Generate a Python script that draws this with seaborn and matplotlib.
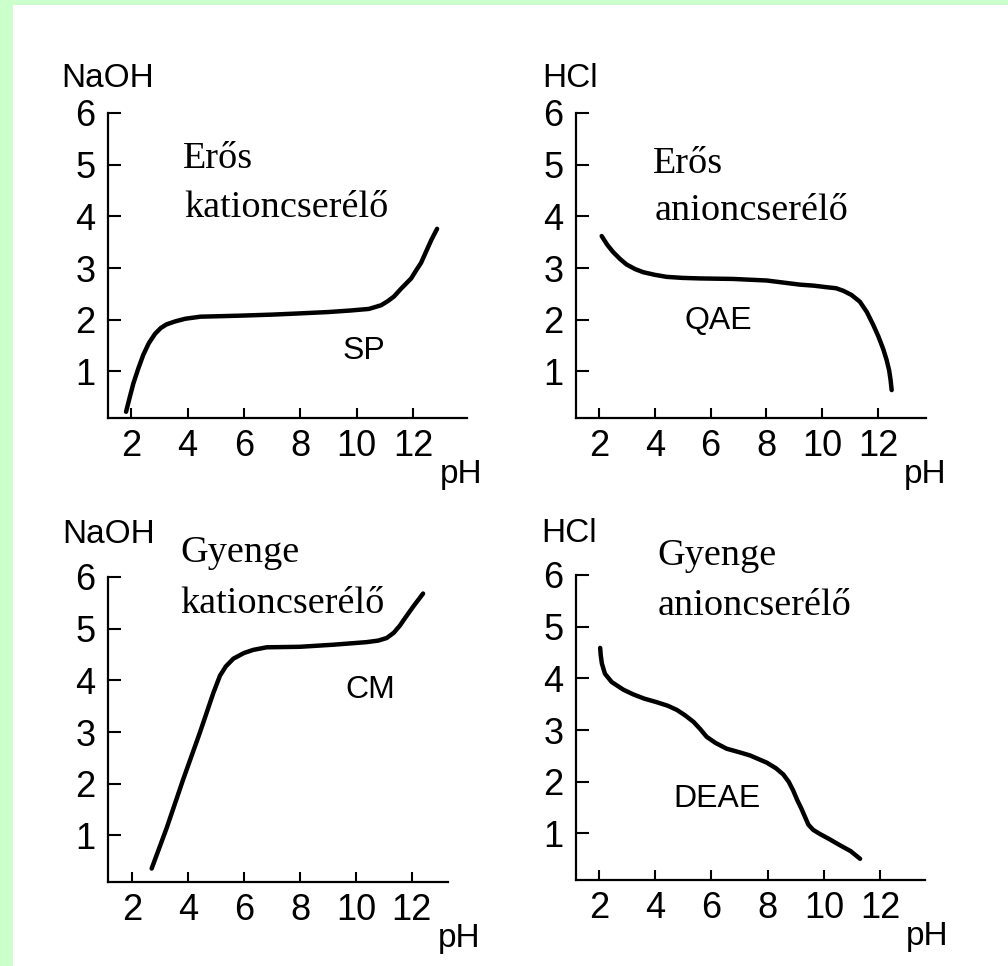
import matplotlib
matplotlib.use('Agg')
import matplotlib.pyplot as plt
import seaborn as sns
import pandas as pd
from matplotlib.patches import Rectangle

sns.set_theme(style='ticks')
plt.rcParams['font.family'] = ['Liberation Sans', 'DejaVu Sans']

# ---- data ----
sp_ph = [1.82, 1.95, 2.08, 2.25, 2.43, 2.63, 2.85, 3.05, 3.25, 3.57, 3.92, 4.46, 5.2, 5.88,
         7.0, 7.84, 9.0, 9.79, 10.43, 10.86, 11.1, 11.32, 11.57, 11.93, 12.1, 12.28, 12.46,
         12.65, 12.85]
sp_val = [0.22, 0.5, 0.77, 1.05, 1.32, 1.55, 1.73, 1.84, 1.91, 1.97, 2.02, 2.06, 2.07, 2.08,
          2.1, 2.12, 2.15, 2.18, 2.21, 2.28, 2.36, 2.45, 2.6, 2.8, 2.95, 3.1, 3.32, 3.55, 3.76]

qae_ph = [2.10, 2.3, 2.51, 2.75, 2.99, 3.3, 3.59, 4.0, 4.43, 5.0, 5.62, 6.81, 8.01, 9.20, 9.7,
          10.16, 10.5, 10.76, 11.05, 11.35, 11.6, 11.83, 12.02, 12.19, 12.31, 12.40, 12.45,
          12.49]
qae_val = [3.62, 3.45, 3.31, 3.18, 3.07, 2.98, 2.92, 2.87, 2.83, 2.81, 2.80, 2.79, 2.76, 2.68,
           2.66, 2.63, 2.61, 2.56, 2.48, 2.35, 2.15, 1.90, 1.67, 1.43, 1.22, 1.02, 0.84, 0.64]

cm_ph = [2.70, 3.24, 3.83, 4.43, 4.90, 5.14, 5.35, 5.62, 6.0, 6.33, 6.81, 8.0, 9.19, 10.38,
         10.8, 11.10, 11.35, 11.57, 11.8, 12.05, 12.40]
cm_val = [0.36, 1.15, 2.09, 3.0, 3.75, 4.09, 4.27, 4.42, 4.53, 4.59, 4.64, 4.65, 4.69, 4.74,
          4.77, 4.82, 4.92, 5.06, 5.24, 5.43, 5.68]

deae_ph = [2.04, 2.06, 2.10, 2.21, 2.45, 2.87, 3.22, 3.6, 4.05, 4.45, 4.77, 5.05, 5.36, 5.6,
           5.83, 6.15, 6.54, 7.0, 7.37, 7.97, 8.3, 8.56, 8.75, 8.91, 9.05, 9.21, 9.45, 9.62,
           9.86, 10.2, 10.58, 10.95, 11.29]
deae_val = [4.59, 4.45, 4.29, 4.09, 3.93, 3.78, 3.69, 3.61, 3.54, 3.47, 3.39, 3.29, 3.16, 3.02,
            2.87, 2.75, 2.64, 2.57, 2.51, 2.37, 2.26, 2.14, 2.0, 1.83, 1.65, 1.47, 1.17, 1.07,
            0.99, 0.89, 0.77, 0.66, 0.51]

x_ticks = [2, 4, 6, 8, 10, 12]
y_ticks = [1, 2, 3, 4, 5, 6]
y_labels = ['NaOH', 'HCl', 'NaOH', 'HCl']
resin_names = ['SP', 'QAE', 'CM', 'DEAE']
type_line1 = ['Erős', 'Erős', 'Gyenge', 'Gyenge']
type_line2 = ['kationcserélő', 'anioncserélő', 'kationcserélő', 'anioncserélő']

series = [(sp_ph, sp_val), (qae_ph, qae_val), (cm_ph, cm_val), (deae_ph, deae_val)]

# ---- layout ----
W, H = 1008, 966
fig = plt.figure(figsize=(W / 100, H / 100), dpi=100, facecolor='#ccffcc')
fig.add_artist(Rectangle((13 / W, 0), 1 - 13 / W, 1 - 5 / H, transform=fig.transFigure,
                         facecolor='white', edgecolor='none', zorder=-5))

positions = [
    [108 / W, 1 - 418 / H, 359 / W, 305 / H],
    [576 / W, 1 - 418 / H, 350 / W, 305 / H],
    [108 / W, 1 - 882 / H, 340 / W, 305 / H],
    [576 / W, 1 - 880 / H, 349 / W, 305 / H],
]
xlims = [(1.18, 13.91), (1.18, 13.72), (1.14, 13.29), (1.18, 13.6)]
ylabel_pos = [(1.18, 6.50), (0.96, 6.50), (1.15, 6.66), (0.95, 6.64)]
type_pos1 = [(3.85, 4.93), (3.94, 4.84), (3.71, 6.29), (4.06, 6.19)]
type_pos2 = [(3.87, 3.98), (4.00, 3.93), (3.71, 5.30), (4.10, 5.22)]
name_pos = [(9.51, 1.25), (5.05, 1.83), (9.61, 3.66), (4.63, 1.52)]

for i in range(4):
    ax = fig.add_axes(positions[i])
    ax.set_facecolor('none')
    ph, val = series[i]
    df = pd.DataFrame({'pH': ph, 'v': val})
    sns.lineplot(data=df, x='pH', y='v', ax=ax, color='black', linewidth=3.2,
                 sort=False, estimator=None)
    ax.set_xlim(*xlims[i])
    ax.set_ylim(0.1, 6)
    ax.set_xticks(x_ticks)
    ax.set_yticks(y_ticks)
    ax.set_xlabel('')
    ax.set_ylabel('')
    sns.despine(ax=ax)
    for s in ['left', 'bottom']:
        ax.spines[s].set_linewidth(1.6)
        ax.spines[s].set_color('black')
    ax.tick_params(axis='y', direction='in', length=9.5, width=1.5, pad=9,
                   labelsize=26, colors='black')
    ax.tick_params(axis='x', direction='in', length=7, width=1.5, pad=8,
                   labelsize=26, colors='black')
    ax.text(*ylabel_pos[i], y_labels[i], ha='center', va='baseline', fontsize=24,
            color='black', clip_on=False)
    ax.text(14.45, -1.16, 'pH', ha='right', va='baseline', fontsize=24,
            color='black', clip_on=False)
    ax.text(*type_pos1[i], type_line1[i], ha='left', va='baseline', fontsize=27.5,
            family=['Liberation Serif', 'DejaVu Serif'], color='black')
    ax.text(*type_pos2[i], type_line2[i], ha='left', va='baseline', fontsize=27.5,
            family=['Liberation Serif', 'DejaVu Serif'], color='black')
    ax.text(*name_pos[i], resin_names[i], ha='left', va='baseline', fontsize=23,
            color='black')

fig.savefig('out.png', dpi=100, facecolor=fig.get_facecolor())
